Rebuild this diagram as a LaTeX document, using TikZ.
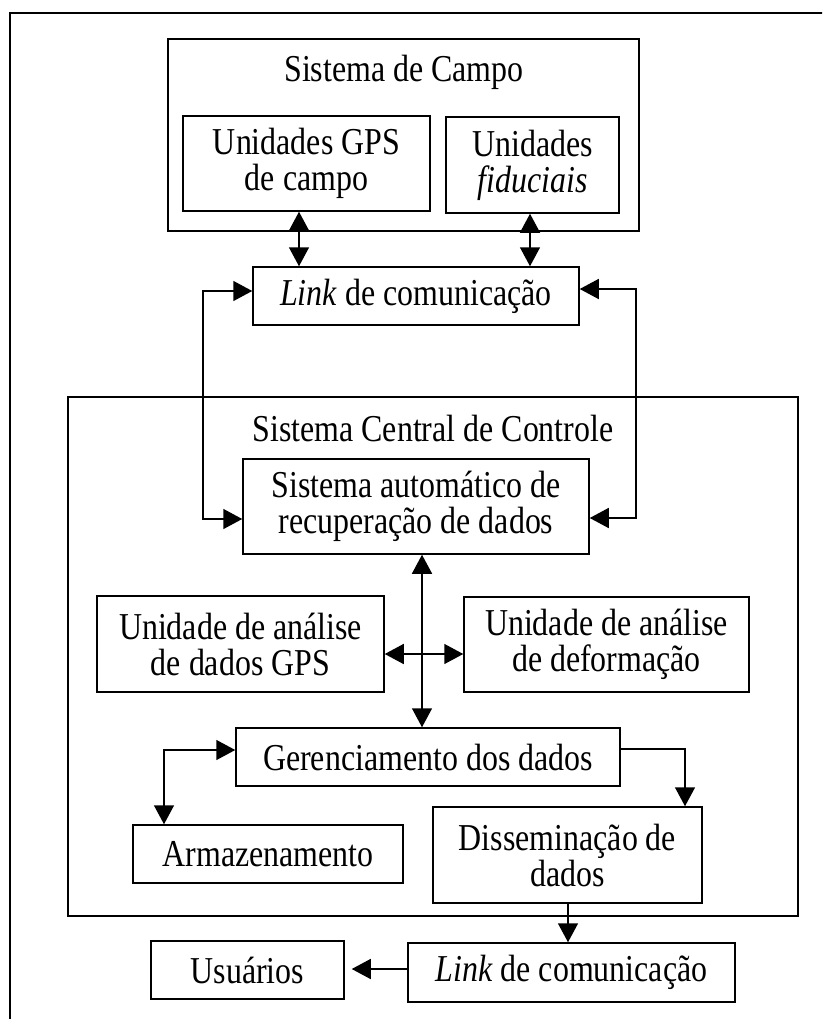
\documentclass[tikz,border=0pt]{standalone}
\usepackage{fontspec}
\setmainfont[FakeStretch=0.84]{Liberation Serif}
\usetikzlibrary{arrows.meta}
\begin{document}
\begin{tikzpicture}[x=1pt,y=-1pt,
  box/.style={draw,line width=1.5pt,inner sep=0pt,align=center,font=\fontsize{38}{36}\selectfont},
  ttl/.style={inner sep=0pt,font=\fontsize{38}{36}\selectfont},
  arr/.style={line width=1.5pt,-{Triangle[length=19pt,width=20pt]}},
  darr/.style={line width=1.5pt,{Triangle[length=19pt,width=20pt]}-{Triangle[length=19pt,width=20pt]}},
]
\useasboundingbox (0,0) rectangle (822,1019);
\clip (0,0) rectangle (822,1019);
\draw[line width=2.5pt] (10,13) rectangle (850,1050);

% containers
\node[box,minimum width=471pt,minimum height=192pt] (campo) at (403.5,135) {};
\node[ttl] (campoT) at (404,72) {Sistema de Campo};
\node[box,minimum width=730pt,minimum height=519pt] (central) at (433,656.5) {};
\node[ttl] (centralT) at (433,428) {Sistema Central de Controle};

% boxes
\node[box,minimum width=247pt,minimum height=95pt] (gps) at (306.5,163.5) {Unidades GPS\\de campo};
\node[box,minimum width=173pt,minimum height=96pt] (fid) at (532.5,165) {Unidades\\\textit{fiduciais}};
\node[box,minimum width=326pt,minimum height=58pt] (link1) at (416,296) {\textit{Link} de comunicação};
\node[box,minimum width=346pt,minimum height=95pt] (auto) at (416,506.5) {Sistema automático de\\recuperação de dados};
\node[box,minimum width=287pt,minimum height=96pt] (gpsan) at (240.5,644) {Unidade de análise\\de dados GPS};
\node[box,minimum width=285pt,minimum height=95pt] (defan) at (606.5,644.5) {Unidade de análise\\de deformação};
\node[box,minimum width=384pt,minimum height=58pt] (ger) at (428,757) {Gerenciamento dos dados};
\node[box,minimum width=270pt,minimum height=58pt] (arm) at (268,854) {Armazenamento};
\node[box,minimum width=269pt,minimum height=96pt] (dis) at (567.5,855) {Disseminação de\\dados};
\node[box,minimum width=327pt,minimum height=59pt] (link2) at (571.5,972.5) {\textit{Link} de comunicação};
\node[box,minimum width=193pt,minimum height=58pt] (usu) at (247.5,970) {Usuários};

% reference coordinates
\coordinate (a1) at (299,0);
\coordinate (a2) at (530,0);
\coordinate (cl) at (203,291);
\coordinate (cl2) at (203,519);
\coordinate (cr) at (636,289);
\coordinate (cr2) at (636,518);
\coordinate (a3) at (422,0);
\coordinate (a4) at (0,654);
\coordinate (g1) at (164,750);
\coordinate (h1) at (685,749);
\coordinate (a5) at (568,0);
\coordinate (a6) at (0,969);

% connectors
\draw[darr] (gps.south -| a1) -- (link1.north -| a1);
\draw[darr] (fid.south -| a2) -- (link1.north -| a2);
\draw[darr] (link1.west |- cl) -- (cl) -- (cl2) -- (auto.west |- cl2);
\draw[darr] (link1.east |- cr) -- (cr) -- (cr2) -- (auto.east |- cr2);
\draw[darr] (auto.south -| a3) -- (ger.north -| a3);
\draw[darr] (gpsan.east |- a4) -- (defan.west |- a4);
\draw[darr] (arm.north -| g1) -- (g1) -- (ger.west |- g1);
\draw[arr] (ger.east |- h1) -- (h1) -- (dis.north -| h1);
\draw[arr] (dis.south -| a5) -- (link2.north -| a5);
\draw[arr,shorten >=7pt] (link2.west |- a6) -- (usu.east |- a6);
\end{tikzpicture}
\end{document}
